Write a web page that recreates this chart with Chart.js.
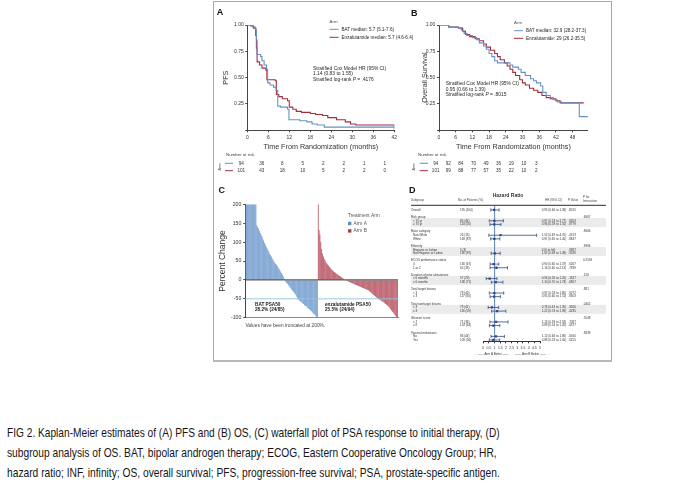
<!DOCTYPE html>
<html lang="en">
<head>
<meta charset="UTF-8" />
<title>FIG 2</title>
<style>
  body { margin: 0; background: #fff; font-family: "Liberation Sans", Arial, sans-serif; }
  .frame { position: absolute; left: 213px; top: 1px; width: 397px; height: 358px; border: 1px solid #a9a9a9; border-bottom: 2px solid #b9b9b9; }
  canvas { position: absolute; }
  .cap { position: absolute; left: 7px; white-space: nowrap; font-size: 13px; line-height: 16px; color: #161616; transform-origin: 0 0; }
</style>
</head>
<body>
<div class="frame"></div>
<canvas id="pfsChart"></canvas>
<canvas id="osChart"></canvas>
<canvas id="psaChart"></canvas>
<canvas id="forestChart"></canvas>
<div class="cap" id="cap1" style="top:425.4px">FIG 2. Kaplan-Meier estimates of (A) PFS and (B) OS, (C) waterfall plot of PSA response to initial therapy, (D)</div>
<div class="cap" id="cap2" style="top:445.2px">subgroup analysis of OS. BAT, bipolar androgen therapy; ECOG, Eastern Cooperative Oncology Group; HR,</div>
<div class="cap" id="cap3" style="top:464.8px">hazard ratio; INF, infinity; OS, overall survival; PFS, progression-free survival; PSA, prostate-specific antigen.</div>

<script src="https://cdn.jsdelivr.net/npm/chart.js"></script>
<script>
// ---- A: PFS (months, survival)
const pfsBatT = [0, 1.5, 2.3, 2.6, 2.8, 3.8, 4.2, 4.8, 5.5, 5.8, 6.5, 7.5, 8.2, 8.7, 9.5, 11.5, 11.9, 15, 17, 18.5, 20, 22, 41.5, 42];
const pfsBatS = [1.0, 0.98, 0.96, 0.86, 0.72, 0.70, 0.66, 0.62, 0.58, 0.45, 0.43, 0.41, 0.38, 0.23, 0.22, 0.20, 0.10, 0.09, 0.08, 0.06, 0.05, 0.03, 0.03, 0.0];
const pfsEnzT = [0, 1, 1.8, 2.4, 2.6, 2.8, 3.5, 4.2, 5.3, 5.6, 8.0, 8.3, 9.0, 10.0, 11.5, 12.0, 13.0, 14.0, 15.5, 18.0, 19.5, 21.5, 23.0, 25.5, 28.0, 29.5, 31.0, 41.5, 42];
const pfsEnzS = [1.0, 0.99, 0.97, 0.90, 0.78, 0.65, 0.62, 0.59, 0.57, 0.48, 0.47, 0.34, 0.32, 0.30, 0.28, 0.22, 0.20, 0.18, 0.17, 0.16, 0.15, 0.14, 0.12, 0.10, 0.08, 0.06, 0.05, 0.05, 0.02];
const pfsRiskBat = [94, 36, 8, 5, 2, 2, 1, 1];
const pfsRiskEnz = [101, 43, 18, 10, 5, 2, 2, 0];

// ---- B: OS
const osBatT = [0, 3.5, 7, 8, 9, 10, 12, 13.5, 14.5, 16, 17, 18, 19, 20, 21, 25.5, 26.5, 28.5, 29.5, 31, 32.9, 34, 35, 36.5, 37.3, 38.5, 40, 41, 42.5, 44, 50.4, 53.5];
const osBatS = [1.0, 0.98, 0.97, 0.95, 0.92, 0.90, 0.88, 0.86, 0.83, 0.80, 0.77, 0.73, 0.70, 0.66, 0.64, 0.62, 0.60, 0.58, 0.55, 0.52, 0.49, 0.47, 0.45, 0.42, 0.36, 0.33, 0.31, 0.29, 0.27, 0.26, 0.13, 0.13];
const osEnzT = [0, 3.5, 7, 8.5, 9.5, 11, 13, 14.5, 16, 17, 18.5, 20, 21, 22, 23.5, 24.5, 25.5, 26.5, 27.5, 29, 30, 31, 32.5, 34, 35.5, 37, 38.5, 40, 42, 43.5, 52];
const osEnzS = [1.0, 0.98, 0.97, 0.94, 0.91, 0.89, 0.87, 0.85, 0.82, 0.79, 0.76, 0.73, 0.70, 0.67, 0.64, 0.61, 0.58, 0.55, 0.52, 0.48, 0.45, 0.43, 0.40, 0.38, 0.36, 0.33, 0.31, 0.30, 0.28, 0.26, 0.26];
const osRiskBat = [94, 92, 84, 70, 49, 36, 19, 10, 3];
const osRiskEnz = [101, 99, 88, 77, 57, 35, 22, 10, 2];

// ---- C: PSA waterfall (% change, truncated at 200)
const armA = [200, 200, 200, 200, 200, 200, 200, 200, 200, 200, 200, 200, 200,
  145, 140, 136, 130, 124, 120, 116, 110, 104, 98, 93, 88, 84, 80, 75, 70, 66, 62, 57, 53, 49, 46, 43, 40, 36, 33, 30, 26, 22, 18, 14, 9, 4,
  -2, -5, -8, -11, -14, -17, -20, -23, -26, -29, -32, -35, -38, -41, -45,
  -51, -52, -55, -57, -58, -61, -63, -64, -67, -69, -70, -73, -75, -77, -78, -81, -83, -86, -88, -90, -92, -95, -98, -100];
const armB = [200, 132, 120, 100, 82, 70, 62, 56, 51, 47, 44, 41, 38, 35, 32, 29, 27, 25, 23, 21, 19, 17, 15, 14, 12, 10, 9, 7, 6, 4, 3, 1,
  -1, -2, -3, -4, -5, -6, -7, -8, -9, -10, -11, -12, -13, -14, -15, -16, -17, -18, -19, -20, -21, -22, -23, -24, -25, -26, -27, -28,
  -30, -32, -34, -36, -38, -40, -42, -44, -46, -48,
  -50, -51, -52, -54, -55, -57, -58, -60, -62, -64, -66, -68, -70, -72, -75, -78, -81, -84, -87, -90, -93, -96, -98, -100];

// ---- D: subgroup hazard ratios
const subgroups = ['Overall', 'Risk group', '< 70 yr', '\u2265 70 yr', 'Race category', 'Non-White', 'White',
  'Ethnicity', 'Hispanic or Latino', 'Not Hispanic or Latino', 'ECOG performance status', '0', '1 or 2',
  'Duration of prior abiraterone', '< 6 months', '\u2265 6 months', 'Total target lesions', '< 3', '\u2265 3',
  'Total nontarget lesions', '< 3', '\u2265 3', 'Gleason score', '\u2264 7', '\u2265 8', 'Visceral metastasis', 'No', 'Yes'];
const rowPos = [0, 2, 3, 4, 6, 7, 8, 10, 11, 12, 14, 15, 16, 18, 19, 20, 22, 23, 24, 26, 27, 28, 30, 31, 32, 34, 35, 36];
const nPatients = ['195 (100)', null, '85 (44)', '110 (56)', null, '26 (13)', '169 (87)', null, '5 (3)', '190 (97)',
  null, '130 (67)', '65 (33)', null, '57 (29)', '138 (71)', null, '78 (40)', '117 (60)', null, '79 (41)', '116 (59)',
  null, '71 (36)', '124 (64)', null, '86 (44)', '109 (56)'];
const hr =   [0.95, null, 0.97, 0.96, null, 1.52, 0.97, null, null, 1.02, null, 0.90, 1.16, null, 0.56, 1.10, null, 0.97, 0.95, null, 0.76, 1.22, null, 1.13, 0.89, null, 1.12, 0.88];
const hrLo = [0.66, null, 0.53, 0.59, null, 0.49, 0.65, null, null, 0.69, null, 0.60, 0.60, null, 0.26, 0.70, null, 0.53, 0.60, null, 0.43, 0.74, null, 0.59, 0.54, null, 0.68, 0.53];
const hrHi = [1.39, null, 1.77, 1.55, null, 4.70, 1.45, null, null, 1.49, null, 1.37, 2.13, null, 1.20, 1.73, null, 1.80, 1.51, null, 1.35, 1.99, null, 2.18, 1.45, null, 1.86, 1.45];
const pValue = ['.8015', null, '.9203', '.8779', null, '.4703', '.8847', null, '.9987', '.9249', null, '.6267', '.7339',
  null, '.1327', '.6807', null, '.9272', '.8303', null, '.3506', '.4235', null, '.7087', '.6377', null, '.6560', '.6155'];
const pInteraction = [null, '.6667', null, null, '.8666', null, null, '.9996', null, null, '0.2559', null, null,
  '.126', null, null, '.881', null, null, '.0402', null, null, '.5548', null, null, '.3839', null, null];
const hrTicks = [0, 0.5, 1, 1.5, 2, 2.5, 3, 3.5, 4, 4.5, 5];

const FAM = '"Liberation Sans", Arial, Helvetica, sans-serif';
const BLUE = '#6692c3';
const RED = '#a52b3e';
const INK = '#262626';
const AXIS = '#444';
const NAVY = '#2f4c80';

function font(size, bold, italic) {
  return (italic ? 'italic ' : '') + (bold ? 'bold ' : '') + size + 'px ' + FAM;
}
function text(ctx, s, x, y, size, o) {
  o = o || {};
  ctx.save();
  ctx.font = font(size, o.bold, o.italic);
  ctx.fillStyle = o.color || INK;
  ctx.textAlign = o.align || 'left';
  ctx.textBaseline = 'middle';
  ctx.translate(x, y);
  if (o.rot) ctx.rotate(o.rot);
  ctx.fillText(s, 0, 0);
  const w = ctx.measureText(s).width;
  ctx.restore();
  return w;
}
function seg(ctx, x1, y1, x2, y2, color, w) {
  ctx.save();
  ctx.strokeStyle = color;
  ctx.lineWidth = w;
  ctx.beginPath();
  ctx.moveTo(x1, y1);
  ctx.lineTo(x2, y2);
  ctx.stroke();
  ctx.restore();
}
function place(id, r) {
  const c = document.getElementById(id);
  c.width = r.w;
  c.height = r.h;
  c.style.left = r.x + 'px';
  c.style.top = r.y + 'px';
  return c;
}
function points(ts, ss) {
  return ts.map((t, i) => ({ x: t, y: ss[i] }));
}

// Kaplan-Meier panel
function kmChart(id, r, o) {
  const lh = 7 * 1.2;
  const padL = o.yTitleX - r.x - lh / 2;
  const yW = o.area.l - r.x - padL;
  const xH = o.xTitleY - o.area.b + lh / 2;
  const pX = X => X - r.x, pY = Y => Y - r.y;

  const overlay = {
    id: 'kmText',
    afterDraw(chart) {
      const ctx = chart.ctx;
      text(ctx, o.letter, pX(o.letterAt[0]), pY(o.letterAt[1]), 9, { bold: true, align: 'center', color: '#111' });

      const lg = o.legend;
      text(ctx, 'Arm', pX(lg.x), pY(lg.y0), 4.4, { color: '#555' });
      chart.data.datasets.forEach((ds, i) => {
        const y = pY(lg.rows[i]);
        seg(ctx, pX(lg.x), y, pX(lg.x + lg.len), y, ds.borderColor, 1);
        text(ctx, ds.label, pX(lg.textX), y, 4.6);
      });

      const st = o.stats;
      text(ctx, 'Stratified Cox Model HR (95% CI)', pX(st.x), pY(st.ys[0]), 4.9);
      text(ctx, st.hr, pX(st.x), pY(st.ys[1]), 4.9);
      let x = pX(st.x);
      x += text(ctx, 'Stratified log-rank ', x, pY(st.ys[2]), 4.9);
      x += text(ctx, 'P', x, pY(st.ys[2]), 4.9, { italic: true });
      text(ctx, ' = ' + st.p, x, pY(st.ys[2]), 4.9);

      const rk = o.risk;
      text(ctx, 'Number at risk', pX(rk.titleX), pY(rk.titleY), 4.4, { color: '#444' });
      text(ctx, 'Arm', pX(rk.armX), pY((rk.rows[0] + rk.rows[1]) / 2), 3.8, { color: '#444', align: 'center', rot: -Math.PI / 2 });
      [rk.bat, rk.enz].forEach((vals, j) => {
        const y = pY(rk.rows[j]);
        seg(ctx, pX(rk.lineX[0]), y, pX(rk.lineX[1]), y, chart.data.datasets[j].borderColor, 1);
        vals.forEach((v, i) => text(ctx, String(v), pX(rk.x0 + i * rk.step), y, 4.6, { align: 'center', color: '#333' }));
      });
    }
  };

  return new Chart(place(id, r), {
    type: 'line',
    data: {
      datasets: [
        { label: o.labels[0], data: points(o.bat[0], o.bat[1]), borderColor: BLUE, borderWidth: 1.1, pointRadius: 0, stepped: true, fill: false },
        { label: o.labels[1], data: points(o.enz[0], o.enz[1]), borderColor: RED, borderWidth: 1.1, pointRadius: 0, stepped: true, fill: false }
      ]
    },
    options: {
      responsive: false,
      animation: false,
      events: [],
      layout: { padding: { left: padL, top: o.area.t - r.y, right: r.x + r.w - o.area.r, bottom: r.y + r.h - o.area.b - xH } },
      plugins: { legend: { display: false }, tooltip: { enabled: false } },
      scales: {
        x: {
          type: 'linear', min: 0, max: o.xMax,
          ticks: { stepSize: 6, includeBounds: false, autoSkip: false, maxRotation: 0, padding: 2, color: '#333', font: { size: 5, family: FAM } },
          grid: { drawOnChartArea: false, tickLength: 2, color: AXIS },
          border: { color: AXIS, width: 1 },
          title: { display: true, text: 'Time From Randomization (months)', padding: 0, color: '#333', font: { size: 7.2, family: FAM } },
          afterFit: s => { s.height = xH; }
        },
        y: {
          type: 'linear', min: 0, max: 1,
          ticks: { stepSize: 0.25, padding: 1.6, color: '#333', font: { size: 5, family: FAM }, callback: v => (v === 0 ? '' : v.toFixed(2)) },
          grid: { drawOnChartArea: false, tickLength: 2, color: AXIS },
          border: { color: AXIS, width: 1 },
          title: { display: true, text: o.yTitle, padding: 0, color: '#333', font: { size: 7.2, family: FAM } },
          afterFit: s => { s.width = yW; }
        }
      }
    },
    plugins: [overlay]
  });
}

kmChart('pfsChart', { x: 214, y: 3, w: 218, h: 182 }, {
  area: { l: 247.3, t: 25, r: 394.3, b: 130.3 }, xMax: 42, yTitle: 'PFS', yTitleX: 225.7, xTitleY: 147,
  bat: [pfsBatT, pfsBatS], enz: [pfsEnzT, pfsEnzS],
  labels: ['BAT median: 5.7 (5.1-7.6)', 'Enzalutamide median: 5.7 (4.6-6.4)'],
  letter: 'A', letterAt: [220, 13],
  legend: { x: 329.5, y0: 21.7, rows: [29.3, 37.3], len: 9, textX: 341.5 },
  stats: { x: 313, ys: [68.3, 73.8, 79.3], hr: '1.14 (0.83 to 1.55)', p: '.4176' },
  risk: { titleX: 226, titleY: 155, armX: 220, lineX: [225, 233], rows: [163.3, 170.7], x0: 241.3, step: 20.49, bat: pfsRiskBat, enz: pfsRiskEnz }
});

kmChart('osChart', { x: 406, y: 3, w: 205, h: 182 }, {
  area: { l: 439, t: 25, r: 587.9, b: 130.3 }, xMax: 53.5, yTitle: 'Overall Survival', yTitleX: 425, xTitleY: 147,
  bat: [osBatT, osBatS], enz: [osEnzT, osEnzS],
  labels: ['BAT median: 32.9 (28.2-37.3)', 'Enzalutamide: 29 (26.2-35.5)'],
  letter: 'B', letterAt: [414.3, 13.3],
  legend: { x: 514, y0: 22.7, rows: [30.7, 38.3], len: 9, textX: 526 },
  stats: { x: 445.7, ys: [84, 89.5, 95], hr: '0.95 (0.66 to 1.39)', p: '.8015' },
  risk: { titleX: 418, titleY: 155, armX: 414, lineX: [419.7, 428], rows: [163.3, 170.7], x0: 435.7, step: 12.58, bat: osRiskBat, enz: osRiskEnz }
});

// ---- C: waterfall
(function () {
  const r = { x: 214, y: 186, w: 196, h: 154 };
  const area = { l: 245.3, t: 204.3, r: 398, b: 317.7 };
  const lh = 8.5 * 1.2;
  const padL = 223 - r.x - lh / 2;
  const yW = area.l - r.x - padL;
  const pX = X => X - r.x, pY = Y => Y - r.y;
  const patients = armA.concat(armB).map((_, i) => i + 1);
  const blankA = armA.map(() => null), blankB = armB.map(() => null);

  const overlay = {
    id: 'psaText',
    afterDatasetsDraw(chart) {
      const ctx = chart.ctx, ca = chart.chartArea, y = chart.scales.y;
      seg(ctx, ca.left, y.getPixelForValue(-50), ca.right, y.getPixelForValue(-50), 'rgba(150,195,215,0.9)', 1);
      seg(ctx, ca.left, y.getPixelForValue(0), ca.right, y.getPixelForValue(0), '#333', 1);
    },
    afterDraw(chart) {
      const ctx = chart.ctx;
      text(ctx, 'C', pX(221.7), pY(191), 9, { bold: true, align: 'center', color: '#111' });
      text(ctx, 'Treatment Arm', pX(348), pY(216), 4.8, { color: '#555' });
      chart.data.datasets.forEach((ds, i) => {
        const yy = pY(223.5 + i * 7.4);
        ctx.fillStyle = ds.backgroundColor;
        ctx.fillRect(pX(348), yy - 1.7, 3.4, 3.4);
        text(ctx, ds.label, pX(353.5), yy, 4.8, { color: '#555' });
      });
      text(ctx, 'BAT PSA50', pX(255), pY(304.3), 4.7, { bold: true, color: '#222' });
      text(ctx, '28.2% (24/85)', pX(255), pY(309.6), 4.7, { bold: true, color: '#222' });
      text(ctx, 'enzalutamide PSA50', pX(325), pY(304.3), 4.7, { bold: true, color: '#222' });
      text(ctx, '25.5% (24/94)', pX(325), pY(309.6), 4.7, { bold: true, color: '#222' });
      text(ctx, 'Values have been truncated at 200%.', pX(245.5), pY(325.7), 4.8, { color: '#444' });
    }
  };

  new Chart(place('psaChart', r), {
    type: 'bar',
    data: {
      labels: patients,
      datasets: [
        { label: 'Arm A', data: armA.concat(blankB), backgroundColor: '#5f8fc8', grouped: false, barPercentage: 0.85, categoryPercentage: 1, borderWidth: 0 },
        { label: 'Arm B', data: blankA.concat(armB), backgroundColor: '#ae3d4c', grouped: false, barPercentage: 0.85, categoryPercentage: 1, borderWidth: 0 }
      ]
    },
    options: {
      responsive: false,
      animation: false,
      events: [],
      layout: { padding: { left: padL, top: area.t - r.y, right: r.x + r.w - area.r, bottom: r.y + r.h - area.b } },
      plugins: { legend: { display: false }, tooltip: { enabled: false } },
      scales: {
        x: {
          ticks: { display: false },
          grid: { display: false },
          border: { color: '#888', width: 1 },
          afterFit: s => { s.height = 0; }
        },
        y: {
          min: -100, max: 200,
          ticks: { stepSize: 50, padding: 2, color: '#333', font: { size: 5.2, family: FAM } },
          grid: { drawOnChartArea: false, tickLength: 2, color: AXIS },
          border: { color: AXIS, width: 1 },
          title: { display: true, text: 'Percent Change', padding: 0, color: '#333', font: { size: 8.5, family: FAM } },
          afterFit: s => { s.width = yW; }
        }
      }
    },
    plugins: [overlay]
  });
})();

// ---- D: forest plot
(function () {
  const r = { x: 408, y: 186, w: 202, h: 174 };
  const area = { l: 483.3, t: 204.9, r: 540, b: 341.8 };
  const xH = 9;
  const pX = X => X - r.x, pY = Y => Y - r.y;
  const shaded = ['Risk group', 'Ethnicity', 'Duration of prior abiraterone', 'Total nontarget lesions'];

  const ci = [], caps = [], marks = [];
  hr.forEach((h, i) => {
    if (h === null) return;
    ci.push({ x: hrLo[i], y: rowPos[i] }, { x: hrHi[i], y: rowPos[i] }, { x: hrHi[i], y: null });
    caps.push({ x: hrLo[i], y: rowPos[i] }, { x: hrHi[i], y: rowPos[i] });
    marks.push({ x: h, y: rowPos[i] });
  });

  const overlay = {
    id: 'forestText',
    beforeDatasetsDraw(chart) {
      const ctx = chart.ctx, y = chart.scales.y, x = chart.scales.x, ca = chart.chartArea;
      ctx.save();
      ctx.fillStyle = '#ebebeb';
      subgroups.forEach((s, i) => {
        if (!shaded.includes(s)) return;
        const top = y.getPixelForValue(rowPos[i + 1] - 0.75);
        const bot = y.getPixelForValue(rowPos[i + 2] + 0.75);
        ctx.fillRect(pX(411), top, pX(606) - pX(411), bot - top);
      });
      ctx.restore();
      seg(ctx, x.getPixelForValue(1), ca.top + 1, x.getPixelForValue(1), ca.bottom, '#4d6fa6', 0.9);
    },
    afterDraw(chart) {
      const ctx = chart.ctx, y = chart.scales.y;
      text(ctx, 'D', pX(412.3), pY(191), 9, { bold: true, align: 'center', color: '#111' });
      text(ctx, 'Hazard Ratio', pX(508), pY(195.3), 5, { bold: true, align: 'center', color: '#333' });
      const hs = 3, hc = '#444';
      text(ctx, 'Subgroup', pX(411), pY(200), hs, { color: hc });
      text(ctx, 'No. of Patients (%)', pX(458), pY(200), hs, { color: hc });
      text(ctx, 'HR (95% CI)', pX(545), pY(200), hs, { color: hc });
      text(ctx, 'P Value', pX(568), pY(200), hs, { color: hc });
      text(ctx, 'P for', pX(583), pY(197.6), hs, { color: hc });
      text(ctx, 'Interaction', pX(583), pY(201.4), hs, { color: hc });
      seg(ctx, pX(411), pY(205.3), pX(606), pY(205.3), '#555', 1.3);

      subgroups.forEach((s, i) => {
        const yy = y.getPixelForValue(rowPos[i]);
        const head = nPatients[i] === null;
        text(ctx, s, pX(head || i === 0 ? 411 : 413), yy, 3, { color: '#333' });
        if (!head) {
          text(ctx, nPatients[i], pX(460), yy, 3, { color: '#333' });
          const t = hr[i] === null ? '0 (0 to Inf)' : hr[i].toFixed(2) + ' (' + hrLo[i].toFixed(2) + ' to ' + hrHi[i].toFixed(2) + ')';
          text(ctx, t, pX(541.7), yy, 3, { color: '#333' });
          text(ctx, pValue[i], pX(568.3), yy, 3, { color: '#333' });
        }
        if (pInteraction[i]) text(ctx, pInteraction[i], pX(583), yy, 3, { color: '#333' });
      });

      text(ctx, '\u2190\u2014\u2014 Arm A Better \u2014\u2014', pX(491.7), pY(354.3), 3, { align: 'center', color: '#333' });
      text(ctx, '\u2014\u2014 Arm B Better \u2014\u2014\u2192', pX(532), pY(354.3), 3, { align: 'center', color: '#333' });
    }
  };

  new Chart(place('forestChart', r), {
    type: 'scatter',
    data: {
      datasets: [
        { type: 'line', label: '95% CI', data: ci, borderColor: NAVY, borderWidth: 0.8, pointRadius: 0, spanGaps: false, fill: false },
        { label: 'CI ends', data: caps, pointStyle: 'line', rotation: 90, radius: 1.6, borderColor: NAVY, borderWidth: 0.8 },
        { label: 'HR', data: marks, pointStyle: 'rect', radius: 1.6, backgroundColor: NAVY, borderColor: NAVY, borderWidth: 0 }
      ]
    },
    options: {
      responsive: false,
      animation: false,
      events: [],
      layout: { padding: { left: area.l - r.x, top: area.t - r.y, right: r.x + r.w - area.r, bottom: r.y + r.h - area.b - xH } },
      plugins: { legend: { display: false }, tooltip: { enabled: false } },
      scales: {
        x: {
          type: 'linear', min: hrTicks[0], max: hrTicks[hrTicks.length - 1],
          afterBuildTicks: s => { s.ticks = hrTicks.map(v => ({ value: v })); },
          ticks: { autoSkip: false, maxRotation: 0, padding: 2.4, color: '#333', font: { size: 3.5, family: FAM }, callback: v => String(v) },
          grid: { drawOnChartArea: false, tickLength: 1.5, color: '#333' },
          border: { color: '#333', width: 1 },
          afterFit: s => { s.height = xH; }
        },
        y: { type: 'linear', min: -1.4, max: 36.5, reverse: true, display: false }
      }
    },
    plugins: [overlay]
  });
})();

// caption lines are set in a condensed face: squeeze to the measured widths
function fitCaption() {
  [['cap1', 493], ['cap2', 490], ['cap3', 493]].forEach(([id, w]) => {
    const el = document.getElementById(id);
    el.style.transform = 'none';
    el.style.transform = 'scaleX(' + (w / el.offsetWidth) + ')';
  });
}
fitCaption();
if (document.fonts) document.fonts.ready.then(fitCaption);
</script>
</body>
</html>
